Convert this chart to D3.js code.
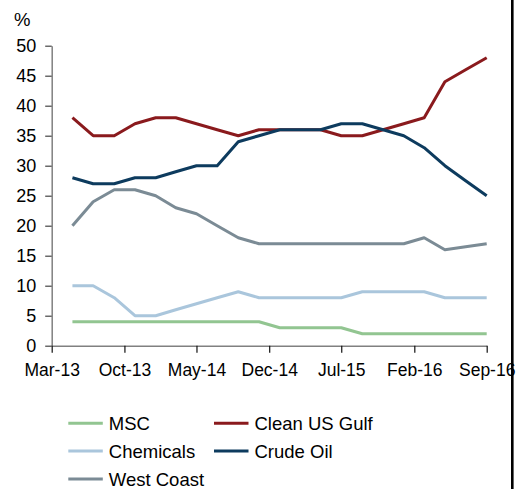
<!DOCTYPE html>
<html>
<head>
<meta charset="utf-8">
<script src="https://cdn.jsdelivr.net/npm/d3@7"></script>
<style>
  html, body { margin: 0; padding: 0; background: #fff; }
  svg { display: block; }
  text { font-family: "Liberation Sans", Arial, sans-serif; fill: #000; }
</style>
</head>
<body>
<svg id="chart" width="517" height="489"></svg>
<script>
// Observation months (bimonthly)
const months = ["2013-05","2013-07","2013-09","2013-11","2014-01","2014-03","2014-05",
  "2014-07","2014-09","2014-11","2015-01","2015-03","2015-05","2015-07","2015-09",
  "2015-11","2016-01","2016-03","2016-05","2016-07","2016-09"];

// Share by segment, %
const msc         = [4,4,4,4,4,4,4,4,4,4,3,3,3,3,2,2,2,2,2,2,2];
const cleanUSGulf = [38,35,35,37,38,38,37,36,35,36,36,36,36,35,35,36,37,38,44,46,48];
const chemicals   = [10,10,8,5,5,6,7,8,9,8,8,8,8,8,9,9,9,9,8,8,8];
const crudeOil    = [28,27,27,28,28,29,30,30,34,35,36,36,36,37,37,36,35,33,30,27.5,25];
const westCoast   = [20,24,26,26,25,23,22,20,18,17,17,17,17,17,17,17,17,18,16,16.5,17];

const seriesNames  = ["MSC","Clean US Gulf","Chemicals","Crude Oil","West Coast"];
const seriesValues = [msc, cleanUSGulf, chemicals, crudeOil, westCoast];
const seriesColors = ["#92c591","#8a1a1d","#aac6dc","#0d3b5e","#7b8b95"];

const xTickMonths = ["2013-03","2013-10","2014-05","2014-12","2015-07","2016-02","2016-09"];
const yTicks = [0,5,10,15,20,25,30,35,40,45,50];

const parseMonth = d3.timeParse("%Y-%m");
const svg = d3.select("#chart");

const x = d3.scaleTime()
  .domain([parseMonth("2013-03"), parseMonth("2016-09")])
  .range([51.7, 486.7]);
const y = d3.scaleLinear().domain([0, 50]).range([345.7, 45.7]);

// Y axis
const yAxis = svg.append("g").attr("transform", "translate(51.7,0)")
  .call(d3.axisLeft(y).tickValues(yTicks).tickSize(6.5).tickPadding(9).tickSizeOuter(0));
yAxis.select(".domain").attr("stroke", "#808080").attr("stroke-width", 1.5);
yAxis.selectAll(".tick line").attr("stroke", "#444").attr("stroke-width", 1.2);
yAxis.selectAll(".tick text").style("font-size", "18px").attr("fill", "#000");

// X axis
const xAxis = svg.append("g").attr("transform", "translate(0,345.7)")
  .call(d3.axisBottom(x).tickValues(xTickMonths.map(parseMonth))
    .tickFormat(d3.timeFormat("%b-%y")).tickSize(7).tickPadding(11).tickSizeOuter(0));
xAxis.select(".domain").attr("stroke", "#808080").attr("stroke-width", 1.5);
xAxis.selectAll(".tick line").attr("stroke", "#111").attr("stroke-width", 1.2);
xAxis.selectAll(".tick text").style("font-size", "17.5px").attr("fill", "#000");

// Unit label
svg.append("text").attr("x", 14).attr("y", 26).style("font-size", "18.5px").text("%");

// Series lines
const line = d3.line()
  .x((d, i) => x(parseMonth(months[i])))
  .y(d => y(d));

seriesValues.forEach((vals, k) => {
  svg.append("path")
    .datum(vals)
    .attr("fill", "none")
    .attr("stroke", seriesColors[k])
    .attr("stroke-width", 3)
    .attr("stroke-linejoin", "round")
    .attr("d", line);
});

// Legend (two columns)
const legendPos = [[68.3,423.3],[214,423.3],[68.3,451],[214,451],[68.3,479]];
seriesNames.forEach((name, k) => {
  const [lx, ly] = legendPos[k];
  const g = svg.append("g").attr("transform", `translate(${lx},${ly})`);
  g.append("line").attr("x1", 0).attr("x2", 34.5).attr("y1", 0).attr("y2", 0)
    .attr("stroke", seriesColors[k]).attr("stroke-width", 3);
  g.append("text").attr("x", 40.5).attr("y", 0).attr("dy", "0.36em")
    .style("font-size", "18.5px").text(name);
});

// Right frame edge
svg.append("rect").attr("x", 511).attr("y", 0).attr("width", 2.6).attr("height", 489).attr("fill", "#000");
</script>
</body>
</html>
